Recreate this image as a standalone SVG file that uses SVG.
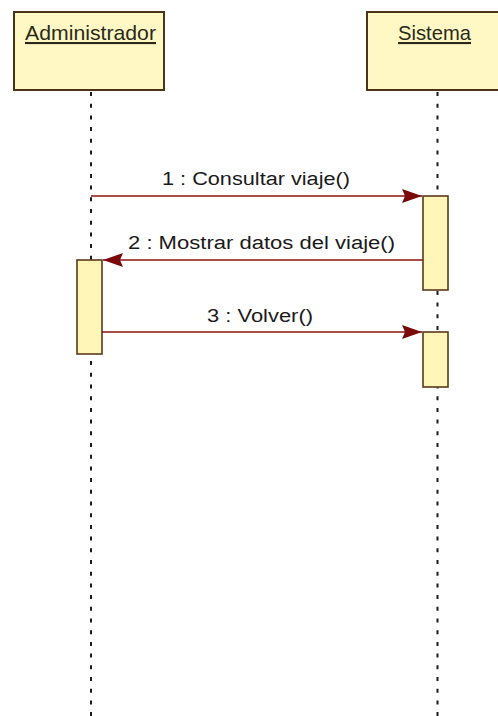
<svg xmlns="http://www.w3.org/2000/svg" width="498" height="716" viewBox="0 0 498 716">
<style>
.head{fill:#FFF8C4;stroke:#4a3418;stroke-width:2}
.act{fill:#FFF6B8;stroke:#5a3a1a;stroke-width:1.6}
.life{stroke:#1a1a1a;stroke-width:2;stroke-dasharray:4 7.7;fill:none}
.title{font-family:"Liberation Sans",Arial,sans-serif;font-size:21px;fill:#2a2a1a;text-decoration:underline}
.msg{font-family:"Liberation Sans",Arial,sans-serif;font-size:18px;fill:#1a1a1a}
.line{stroke:#8B1010;stroke-width:1.6;fill:none}
</style>
<defs>
<marker id="arr" markerUnits="userSpaceOnUse" markerWidth="22" markerHeight="16" refX="20" refY="8" orient="auto">
<path d="M0,1 L20,8 L0,15 L3,8 Z" fill="#7a0a0a"/>
</marker>
</defs>
<rect width="498" height="716" fill="#ffffff"/>
<g id="lifelines">
<line class="life" x1="91" y1="92" x2="91" y2="716"/>
<line class="life" x1="437.5" y1="92" x2="437.5" y2="716"/>
</g>
<g id="administrador">
<rect class="head" x="14" y="12" width="150" height="78"/>
<text class="title" x="25" y="40" textLength="131" lengthAdjust="spacingAndGlyphs">Administrador</text>
</g>
<g id="sistema">
<rect class="head" x="367" y="12" width="141" height="78"/>
<text class="title" x="398" y="40" textLength="73" lengthAdjust="spacingAndGlyphs">Sistema</text>
</g>
<g id="activations">
<rect class="act" x="423" y="196" width="25" height="94"/>
<rect class="act" x="77" y="260" width="25" height="94"/>
<rect class="act" x="423" y="332" width="25" height="55"/>
</g>
<g id="connectors">
<line class="line" x1="91" y1="196" x2="422" y2="196" marker-end="url(#arr)"/>
<line class="line" x1="423" y1="260" x2="103" y2="260" marker-end="url(#arr)"/>
<line class="line" x1="102" y1="332" x2="422" y2="332" marker-end="url(#arr)"/>
<text class="msg" x="162" y="185" textLength="188" lengthAdjust="spacingAndGlyphs">1 : Consultar viaje()</text>
<text class="msg" x="128" y="249" textLength="267" lengthAdjust="spacingAndGlyphs">2 : Mostrar datos del viaje()</text>
<text class="msg" x="207" y="322" textLength="106" lengthAdjust="spacingAndGlyphs">3 : Volver()</text>
</g>
</svg>
